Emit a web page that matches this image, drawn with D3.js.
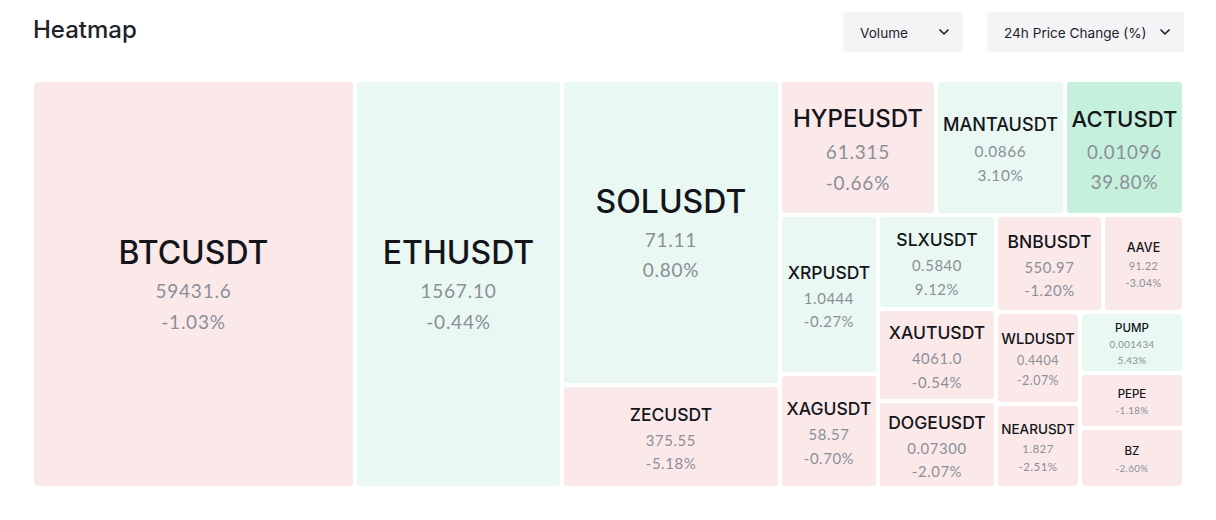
<!DOCTYPE html>
<html>
<head>
<meta charset="utf-8">
<script src="https://cdn.jsdelivr.net/npm/d3@7"></script>
<style>
  body { margin: 0; background: #fff; }
  svg { display: block; }
</style>
</head>
<body>
<div id="chart"></div>
<script>
// 数据：按成交量排序的交易对
const symbols = ["BTCUSDT", "ETHUSDT", "SOLUSDT", "ZECUSDT", "HYPEUSDT", "MANTAUSDT", "ACTUSDT",
  "XRPUSDT", "XAGUSDT", "SLXUSDT", "XAUTUSDT", "DOGEUSDT", "BNBUSDT", "AAVE",
  "WLDUSDT", "NEARUSDT", "PUMP", "PEPE", "BZ"];
const prices = ["59431.6", "1567.10", "71.11", "375.55", "61.315", "0.0866", "0.01096",
  "1.0444", "58.57", "0.5840", "4061.0", "0.07300", "550.97", "91.22",
  "0.4404", "1.827", "0.001434", "", ""];
const changes = [-1.03, -0.44, 0.80, -5.18, -0.66, 3.10, 39.80,
  -0.27, -0.70, 9.12, -0.54, -2.07, -1.20, -3.04,
  -2.07, -2.51, 5.43, -1.18, -2.60];
// 成交量 (百万 USDT，估计值)
const volumes = [1317.8, 844.6, 664.9, 224.5, 210.6, 174.2, 160.7,
  155.8, 111.7, 110.9, 108.6, 102.7, 103.8, 78.6,
  77.3, 70.6, 63.4, 57.2, 62.4];
const dropdownLabels = ["Volume", "24h Price Change (%)"];

const W = 1216, H = 520;
const mapX = 34, mapY = 82, mapW = 1148, mapH = 404;
const NAME_FONT = "Inter, 'Noto Sans', sans-serif";
const VALUE_FONT = "Lato, 'Open Sans', sans-serif";

const svg = d3.select("#chart").append("svg")
  .attr("width", W)
  .attr("height", H);

// 标题
svg.append("text")
  .attr("x", 33).attr("y", 38)
  .text("Heatmap")
  .style("font-family", NAME_FONT)
  .style("font-size", "24px")
  .style("font-weight", 500)
  .style("fill", "#1e2329");

// 下拉框
const dropdowns = [
  {label: dropdownLabels[0], x: 843, w: 120, tx: 860},
  {label: dropdownLabels[1], x: 987, w: 197, tx: 1004}
];
const dd = svg.selectAll(".dropdown").data(dropdowns).join("g").attr("class", "dropdown");
dd.append("rect")
  .attr("x", d => d.x).attr("y", 12)
  .attr("width", d => d.w).attr("height", 40)
  .attr("rx", 4)
  .attr("fill", "#f4f4f6");
dd.append("text")
  .attr("x", d => d.tx).attr("y", 33)
  .attr("dominant-baseline", "central")
  .text(d => d.label)
  .style("font-family", NAME_FONT)
  .style("font-size", "13.6px")
  .style("fill", "#1e2329");
dd.append("path")
  .attr("transform", d => `translate(${d.x + d.w - 19},32)`)
  .attr("d", "M-4,-2 L0,2 L4,-2")
  .attr("fill", "none")
  .attr("stroke", "#1e2329")
  .attr("stroke-width", 1.7)
  .attr("stroke-linecap", "round")
  .attr("stroke-linejoin", "round");

// 树图
const data = symbols.map((s, i) => ({symbol: s, price: prices[i], change: changes[i], volume: volumes[i]}));
const root = d3.hierarchy({children: data}).sum(d => d.volume || 0);
d3.treemap()
  .size([mapW, mapH])
  .paddingInner(4)
  .tile(d3.treemapSquarify.ratio(1))(root);

const color = d3.scaleThreshold()
  .domain([-0.5, 10])
  .range(["#fbe9ea", "#e9f8f2", "#c5f0dc"]);

// 名称字号按格子短边分档
const nameTier = d3.scaleThreshold()
  .domain([60, 80, 100, 140])
  .range([11.5, 12.5, 17.5, 24, 32]);

// 用于测量文字宽度
const measure = svg.append("text")
  .style("font-family", NAME_FONT)
  .style("font-weight", 500)
  .style("font-size", "100px")
  .attr("visibility", "hidden");
function unitWidth(t) {
  measure.text(t);
  return measure.node().getComputedTextLength() / 100;
}

const g = svg.append("g").attr("transform", `translate(${mapX},${mapY})`);

const cell = g.selectAll(".cell")
  .data(root.leaves())
  .join("g")
  .attr("class", "cell")
  .attr("transform", d => `translate(${d.x0},${d.y0})`);

cell.append("rect")
  .attr("width", d => d.x1 - d.x0)
  .attr("height", d => d.y1 - d.y0)
  .attr("rx", 3)
  .attr("fill", d => color(d.data.change));

cell.each(function(d) {
  const w = d.x1 - d.x0, h = d.y1 - d.y0;
  const sel = d3.select(this);
  const nameSize = Math.min(nameTier(Math.min(w, h)), w * 0.92 / unitWidth(d.data.symbol));
  const valSize = Math.min(19, nameSize * 0.85);
  const lines = [d.data.price, d.data.change.toFixed(2) + "%"].filter(Boolean);
  const gap1 = nameSize * 0.6 + valSize, gap2 = valSize * 1.6;
  const offs = [0, gap1, gap1 + gap2].slice(0, lines.length + 1);
  const span = offs[offs.length - 1];
  const top = h / 2 - span / 2 + valSize * 0.15;

  sel.append("text")
    .attr("x", w / 2).attr("y", top)
    .attr("text-anchor", "middle")
    .attr("dominant-baseline", "central")
    .text(d.data.symbol)
    .style("font-family", NAME_FONT)
    .style("font-weight", 500)
    .style("font-size", nameSize + "px")
    .style("fill", "#14151a");

  lines.forEach((t, i) => {
    sel.append("text")
      .attr("x", w / 2).attr("y", top + offs[i + 1])
      .attr("text-anchor", "middle")
      .attr("dominant-baseline", "central")
      .text(t)
      .style("font-family", VALUE_FONT)
      .style("font-size", valSize + "px")
      .style("letter-spacing", (valSize * 0.04) + "px")
      .style("fill", "#8a8f98");
  });
});
measure.remove();
</script>
</body>
</html>
